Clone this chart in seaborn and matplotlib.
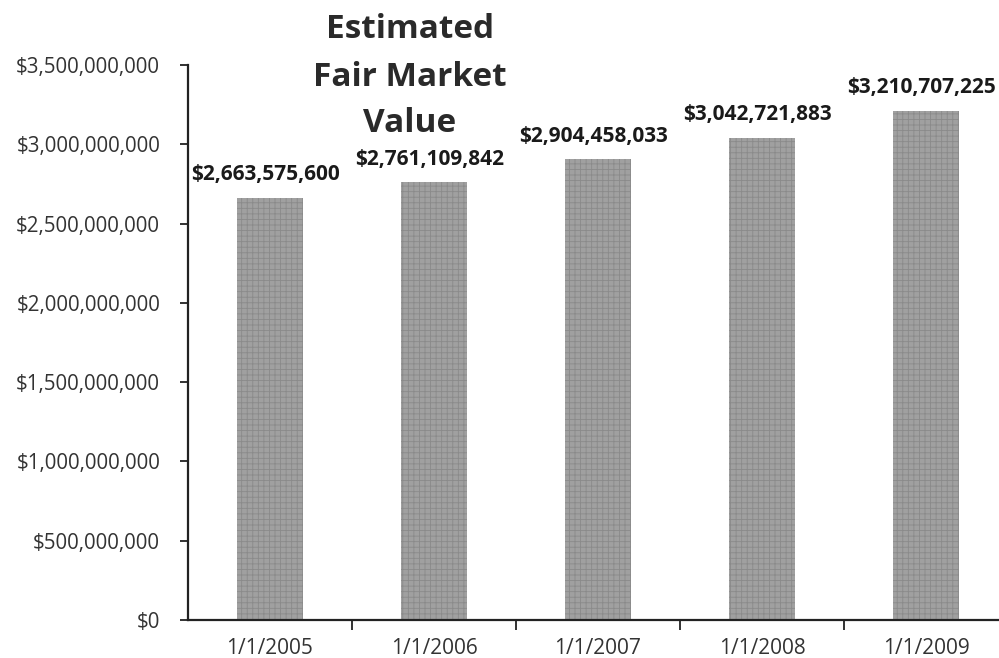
import matplotlib
matplotlib.use("Agg")
import matplotlib.pyplot as plt
import seaborn as sns
import pandas as pd

# values
dates = ["1/1/2005", "1/1/2006", "1/1/2007", "1/1/2008", "1/1/2009"]
fair_value = [2663575600, 2761109842, 2904458033, 3042721883, 3210707225]
y_ticks = [0, 500000000, 1000000000, 1500000000, 2000000000,
           2500000000, 3000000000, 3500000000]

sns.set_style("white")
plt.rcParams["font.family"] = ["Open Sans", "DejaVu Sans"]
plt.rcParams["hatch.linewidth"] = 0.6
plt.rcParams["hatch.color"] = "#6e6e6e"

df = pd.DataFrame({"date": dates, "value": fair_value})

fig = plt.figure(figsize=(9.99, 6.58), dpi=100)
ax = fig.add_axes([188 / 999, 38 / 658, 820 / 999, 555 / 658])

sns.barplot(data=df, x="date", y="value", color="#a0a0a0", width=0.4,
            saturation=1, ax=ax)
for p in ax.patches:
    p.set_hatch("+++")
    p.set_edgecolor("#8a8a8a")
    p.set_linewidth(0)

for i, v in enumerate(fair_value):
    ax.annotate(f"${v:,.0f}", (i, v), xytext=(-3, 9), textcoords="offset points",
                ha="center", va="bottom", fontsize=15, fontweight="bold",
                color="#1a1a1a")

ax.set_ylim(0, 3500000000)
ax.set_xlim(-0.5, 4.5)
ax.set_yticks(y_ticks)
ax.set_yticklabels([f"${t:,.0f}" for t in y_ticks])
ax.set_xlabel("")
ax.set_ylabel("")

sns.despine(ax=ax)
for s in ["left", "bottom"]:
    ax.spines[s].set_color("#222222")
    ax.spines[s].set_linewidth(1.6)

ax.tick_params(axis="y", length=6, width=1.3, color="#222222", pad=14,
               labelsize=14.8, labelcolor="#333333", left=True)
ax.tick_params(axis="x", which="major", length=0, pad=13, labelsize=15,
               labelcolor="#333333")
ax.set_xticks([0.5, 1.5, 2.5, 3.5], minor=True)
ax.tick_params(axis="x", which="minor", length=7, width=1.3, color="#222222",
               bottom=True, direction="out")

fig.text(410 / 999, 1 - 30 / 658, "Estimated", ha="center", va="center",
         fontsize=24, fontweight="bold", color="#2a2a2a")
fig.text(410 / 999, 1 - 77 / 658, "Fair Market", ha="center", va="center",
         fontsize=24, fontweight="bold", color="#2a2a2a")
fig.text(410 / 999, 1 - 124 / 658, "Value", ha="center", va="center",
         fontsize=24, fontweight="bold", color="#2a2a2a")

fig.savefig("out.png", dpi=100)
